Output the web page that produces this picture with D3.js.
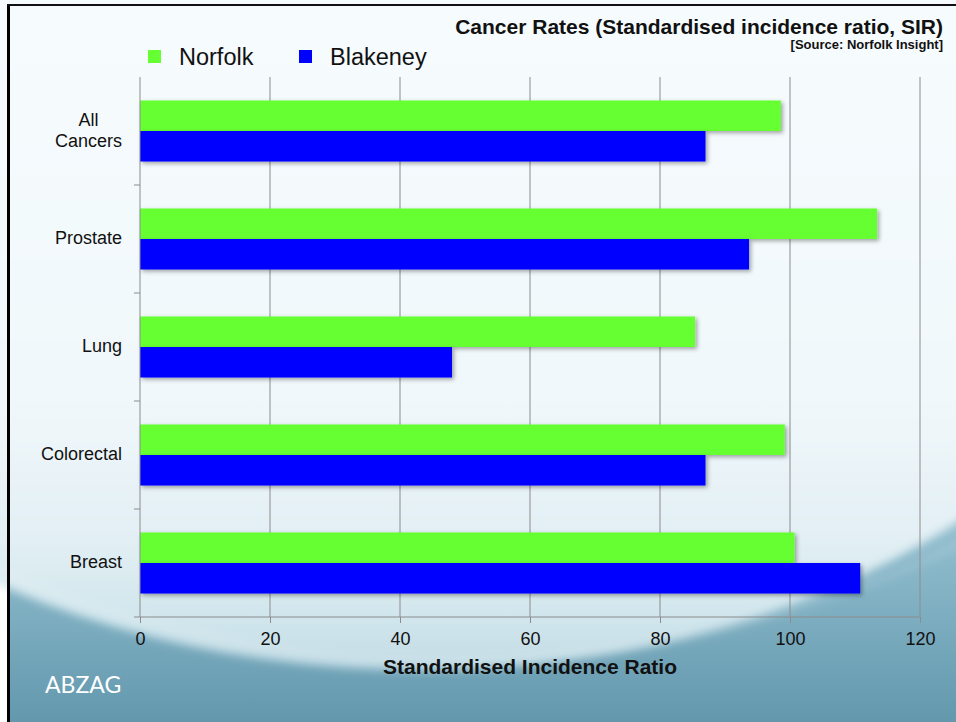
<!DOCTYPE html>
<html>
<head>
<meta charset="utf-8">
<script src="https://cdn.jsdelivr.net/npm/d3@7"></script>
<style>
    body { margin: 0; background: #fff; }
    text { font-family: "Liberation Sans", Arial, sans-serif; }
</style>
</head>
<body>
<div id="chart"></div>
<script>
// values
let categories = ["All Cancers", "Prostate", "Lung", "Colorectal", "Breast"];
let seriesNames = ["Norfolk", "Blakeney"];
let norfolk = [98.6, 113.4, 85.4, 99.2, 100.7];
let blakeney = [87.0, 93.7, 48.0, 87.0, 110.8];
let xTicks = [0, 20, 40, 60, 80, 100, 120];
let colors = ["#66ff33", "#0000ff"];

let width = 956,
    height = 722;

let margin = {top: 77, right: 36, bottom: 105, left: 140};

let svg = d3.select("#chart")
    .append("svg")
    .attr("width", width)
    .attr("height", height);

let defs = svg.append("defs");

function addGradient(id, stops) {
    let gr = defs.append("linearGradient")
        .attr("id", id)
        .attr("gradientUnits", "userSpaceOnUse")
        .attr("x1", 0).attr("y1", 0).attr("x2", 0).attr("y2", height);
    stops.forEach(s => gr.append("stop").attr("offset", s[0]).attr("stop-color", s[1]));
}

addGradient("bowl", [["0%", "#f6fbfe"], ["55%", "#f1f8fb"], ["75%", "#e2eff4"], ["86%", "#d0e5ec"], ["95%", "#bdd8e2"]]);
addGradient("low", [["0%", "#c9e1ea"], ["66%", "#a3c9d7"], ["80%", "#86b5c7"], ["100%", "#6398ad"]]);

let blur = defs.append("filter").attr("id", "soft")
    .attr("x", "-10%").attr("y", "-10%").attr("width", "120%").attr("height", "120%");
blur.append("feGaussianBlur").attr("stdDeviation", 5);

let shadow = defs.append("filter")
    .attr("id", "shadow")
    .attr("x", "-5%").attr("y", "-20%")
    .attr("width", "115%").attr("height", "160%");
shadow.append("feDropShadow")
    .attr("dx", 2).attr("dy", 2)
    .attr("stdDeviation", 2)
    .attr("flood-color", "#000")
    .attr("flood-opacity", 0.35);

// slide background
svg.append("rect")
    .attr("x", 7).attr("y", 4)
    .attr("width", width - 7).attr("height", height - 4)
    .attr("fill", "url(#low)");

svg.append("ellipse")
    .attr("cx", 420).attr("cy", 100)
    .attr("rx", 800).attr("ry", 570)
    .attr("fill", "url(#bowl)")
    .attr("filter", "url(#soft)");

svg.append("ellipse")
    .attr("cx", 450).attr("cy", 60)
    .attr("rx", 860).attr("ry", 600)
    .attr("fill", "none")
    .attr("stroke", "#ffffff")
    .attr("stroke-opacity", 0.18)
    .attr("stroke-width", 5)
    .attr("filter", "url(#soft)");

svg.append("rect")
    .attr("x", 7).attr("y", 4)
    .attr("width", 3).attr("height", height - 4)
    .attr("fill", "#000");
svg.append("rect")
    .attr("x", 7).attr("y", 4)
    .attr("width", width - 7).attr("height", 2)
    .attr("fill", "#111");

let plotW = width - margin.left - margin.right,
    plotH = height - margin.top - margin.bottom;

let x = d3.scaleLinear()
    .domain([0, 120])
    .range([0, 780]);

let y = d3.scaleBand()
    .domain(categories)
    .range([0, plotH])
    .paddingInner(0.435)
    .paddingOuter(0.2175);

let y1 = d3.scaleBand()
    .domain(seriesNames)
    .range([0, y.bandwidth()]);

let g = svg.append("g")
    .attr("transform", "translate(" + margin.left + "," + margin.top + ")");

// gridlines
g.append("g")
    .attr("class", "grid")
    .selectAll("line")
    .data(xTicks.slice(1))
    .enter().append("line")
    .attr("x1", d => x(d)).attr("x2", d => x(d))
    .attr("y1", 0).attr("y2", plotH)
    .attr("stroke", "#8c8c8c")
    .attr("stroke-width", 1);

// bars
let rows = categories.map((c, i) => ({cat: c, values: [norfolk[i], blakeney[i]]}));

g.append("g")
    .selectAll("g")
    .data(rows)
    .enter().append("g")
    .attr("transform", d => "translate(0," + y(d.cat) + ")")
    .selectAll("rect")
    .data(d => d.values.map((v, j) => ({name: seriesNames[j], value: v, j: j})))
    .enter().append("rect")
    .attr("x", 0)
    .attr("y", d => y1(d.name))
    .attr("width", d => x(d.value))
    .attr("height", y1.bandwidth())
    .attr("fill", d => colors[d.j])
    .attr("filter", "url(#shadow)");

// x axis
let xAxis = g.append("g")
    .attr("transform", "translate(0," + plotH + ")")
    .call(d3.axisBottom(x).tickValues(xTicks).tickSizeInner(6).tickSizeOuter(0).tickPadding(9));
xAxis.select(".domain").remove();
xAxis.append("line")
    .attr("x1", -6).attr("x2", x(120))
    .attr("stroke", "#8c8c8c");
xAxis.selectAll(".tick line").attr("stroke", "#8c8c8c");
xAxis.selectAll("text")
    .attr("fill", "#111")
    .style("font-size", "18px");

// y axis
let yAxis = g.append("g");
yAxis.append("line")
    .attr("x1", 0).attr("x2", 0)
    .attr("y1", 0).attr("y2", plotH)
    .attr("stroke", "#8c8c8c");
yAxis.selectAll(".ytick")
    .data(categories.slice(1))
    .enter().append("line")
    .attr("x1", -6).attr("x2", 0)
    .attr("y1", d => y(d) - y.step() * y.paddingInner() / 2)
    .attr("y2", d => y(d) - y.step() * y.paddingInner() / 2)
    .attr("stroke", "#8c8c8c");

yAxis.selectAll(".ylabel")
    .data(categories)
    .enter().append("text")
    .attr("fill", "#111")
    .style("font-size", "18px")
    .attr("text-anchor", "middle")
    .each(function (d) {
        let words = d.split(" ");
        let t = d3.select(this);
        let cy = y(d) + y.bandwidth() / 2 - 1;
        let lh = 21;
        words.forEach((w, k) => {
            t.append("tspan")
                .attr("x", 0)
                .attr("y", cy + (k - (words.length - 1) / 2) * lh)
                .attr("dy", "0.35em")
                .text(w);
        });
        let w = this.getBBox().width;
        t.selectAll("tspan").attr("x", -18 - w / 2);
    });

// axis title
svg.append("text")
    .attr("x", margin.left + x(60))
    .attr("y", 674)
    .attr("text-anchor", "middle")
    .attr("fill", "#111")
    .style("font-size", "21px")
    .style("font-weight", "bold")
    .text("Standardised Incidence Ratio");

// chart title + source
svg.append("text")
    .attr("x", 943)
    .attr("y", 34)
    .attr("text-anchor", "end")
    .attr("fill", "#111")
    .style("font-size", "21px")
    .style("font-weight", "bold")
    .text("Cancer Rates (Standardised incidence ratio, SIR)");

svg.append("text")
    .attr("x", 943)
    .attr("y", 49)
    .attr("text-anchor", "end")
    .attr("fill", "#111")
    .style("font-size", "13px")
    .style("font-weight", "bold")
    .text("[Source: Norfolk Insight]");

// legend
let legend = svg.append("g")
    .attr("transform", "translate(148,50)");
let li = legend.selectAll("g")
    .data(seriesNames)
    .enter().append("g")
    .attr("transform", (d, i) => "translate(" + (i * 151) + ",0)");
li.append("rect")
    .attr("width", 13).attr("height", 13)
    .attr("fill", (d, i) => colors[i]);
li.append("text")
    .attr("x", 31).attr("y", 15)
    .attr("fill", "#111")
    .style("font-size", "23.5px")
    .text(d => d);

svg.append("text")
    .attr("x", 45)
    .attr("y", 693)
    .attr("fill", "#fff")
    .style("font-size", "23px")
    .style("font-family", "Lato, 'Open Sans', sans-serif")
    .text("ABZAG");
</script>
</body>
</html>
